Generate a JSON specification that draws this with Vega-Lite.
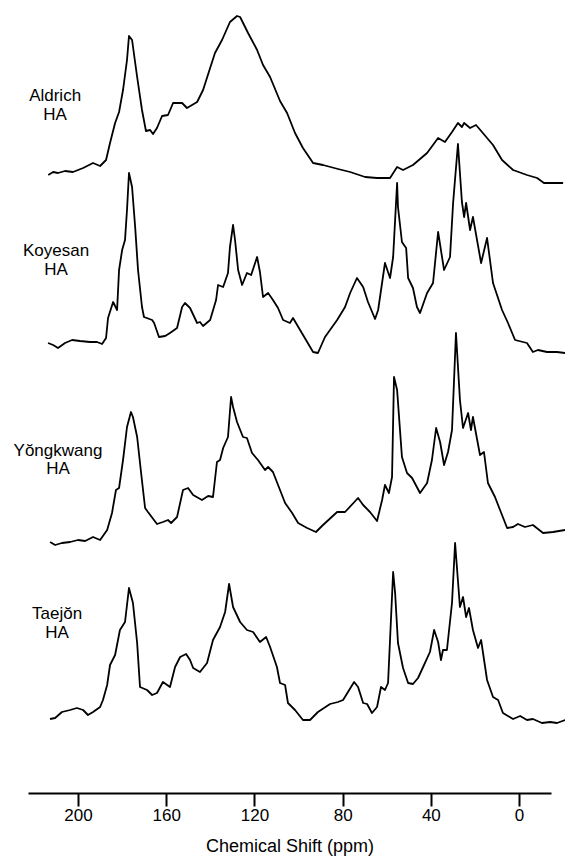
{
  "$schema": "https://vega.github.io/schema/vega-lite/v6.json",
  "autosize": "none",
  "width": 523,
  "height": 793,
  "padding": {"left": 28, "right": 14, "top": 0, "bottom": 69},
  "background": "white",
  "config": {"view": {"stroke": null}, "font": "Liberation Sans"},
  "datasets": {
    "spectra": [
      {"sample":"Aldrich","ppm":213.5,"signal":618},{"sample":"Aldrich","ppm":211.3,"signal":621},{"sample":"Aldrich","ppm":209.1,"signal":620},{"sample":"Aldrich","ppm":205.9,"signal":622},{"sample":"Aldrich","ppm":202.3,"signal":621},{"sample":"Aldrich","ppm":197.7,"signal":625},{"sample":"Aldrich","ppm":193.2,"signal":630},{"sample":"Aldrich","ppm":190.0,"signal":627},{"sample":"Aldrich","ppm":187.3,"signal":633},{"sample":"Aldrich","ppm":185.5,"signal":650},{"sample":"Aldrich","ppm":183.2,"signal":670},{"sample":"Aldrich","ppm":181.4,"signal":681},{"sample":"Aldrich","ppm":179.6,"signal":703},{"sample":"Aldrich","ppm":177.8,"signal":733},{"sample":"Aldrich","ppm":176.9,"signal":757},{"sample":"Aldrich","ppm":175.5,"signal":753},{"sample":"Aldrich","ppm":173.2,"signal":716},{"sample":"Aldrich","ppm":171.0,"signal":683},{"sample":"Aldrich","ppm":169.2,"signal":662},{"sample":"Aldrich","ppm":167.3,"signal":663},{"sample":"Aldrich","ppm":166.0,"signal":659},{"sample":"Aldrich","ppm":164.2,"signal":665},{"sample":"Aldrich","ppm":161.9,"signal":677},{"sample":"Aldrich","ppm":159.2,"signal":678},{"sample":"Aldrich","ppm":156.9,"signal":690},{"sample":"Aldrich","ppm":152.8,"signal":690},{"sample":"Aldrich","ppm":150.6,"signal":685},{"sample":"Aldrich","ppm":146.0,"signal":691},{"sample":"Aldrich","ppm":143.3,"signal":703},{"sample":"Aldrich","ppm":140.1,"signal":725},{"sample":"Aldrich","ppm":137.9,"signal":740},{"sample":"Aldrich","ppm":134.7,"signal":753},{"sample":"Aldrich","ppm":131.1,"signal":771},{"sample":"Aldrich","ppm":127.9,"signal":777},{"sample":"Aldrich","ppm":126.5,"signal":776},{"sample":"Aldrich","ppm":122.9,"signal":760},{"sample":"Aldrich","ppm":118.8,"signal":743},{"sample":"Aldrich","ppm":116.1,"signal":728},{"sample":"Aldrich","ppm":112.9,"signal":716},{"sample":"Aldrich","ppm":108.4,"signal":692},{"sample":"Aldrich","ppm":105.2,"signal":680},{"sample":"Aldrich","ppm":101.6,"signal":660},{"sample":"Aldrich","ppm":98.0,"signal":645},{"sample":"Aldrich","ppm":93.4,"signal":630},{"sample":"Aldrich","ppm":88.9,"signal":628},{"sample":"Aldrich","ppm":82.1,"signal":624},{"sample":"Aldrich","ppm":76.6,"signal":621},{"sample":"Aldrich","ppm":69.8,"signal":616},{"sample":"Aldrich","ppm":64.4,"signal":615},{"sample":"Aldrich","ppm":58.5,"signal":615},{"sample":"Aldrich","ppm":55.3,"signal":626},{"sample":"Aldrich","ppm":52.6,"signal":623},{"sample":"Aldrich","ppm":48.1,"signal":628},{"sample":"Aldrich","ppm":41.7,"signal":640},{"sample":"Aldrich","ppm":36.7,"signal":655},{"sample":"Aldrich","ppm":33.6,"signal":651},{"sample":"Aldrich","ppm":30.4,"signal":661},{"sample":"Aldrich","ppm":27.7,"signal":670},{"sample":"Aldrich","ppm":25.9,"signal":666},{"sample":"Aldrich","ppm":24.9,"signal":670},{"sample":"Aldrich","ppm":22.2,"signal":665},{"sample":"Aldrich","ppm":19.5,"signal":668},{"sample":"Aldrich","ppm":16.8,"signal":661},{"sample":"Aldrich","ppm":11.8,"signal":648},{"sample":"Aldrich","ppm":7.7,"signal":633},{"sample":"Aldrich","ppm":2.7,"signal":623},{"sample":"Aldrich","ppm":-3.6,"signal":618},{"sample":"Aldrich","ppm":-8.2,"signal":615},{"sample":"Aldrich","ppm":-11.3,"signal":610},{"sample":"Aldrich","ppm":-20.0,"signal":610},

      {"sample":"Koyesan","ppm":213.6,"signal":450},{"sample":"Koyesan","ppm":211.3,"signal":448},{"sample":"Koyesan","ppm":209.1,"signal":445},{"sample":"Koyesan","ppm":205.9,"signal":450},{"sample":"Koyesan","ppm":202.7,"signal":453},{"sample":"Koyesan","ppm":199.1,"signal":452},{"sample":"Koyesan","ppm":194.6,"signal":451},{"sample":"Koyesan","ppm":191.4,"signal":451},{"sample":"Koyesan","ppm":189.1,"signal":449},{"sample":"Koyesan","ppm":187.3,"signal":455},{"sample":"Koyesan","ppm":186.4,"signal":475},{"sample":"Koyesan","ppm":184.1,"signal":491},{"sample":"Koyesan","ppm":182.3,"signal":483},{"sample":"Koyesan","ppm":181.4,"signal":523},{"sample":"Koyesan","ppm":180.0,"signal":543},{"sample":"Koyesan","ppm":178.7,"signal":553},{"sample":"Koyesan","ppm":177.8,"signal":583},{"sample":"Koyesan","ppm":176.9,"signal":620},{"sample":"Koyesan","ppm":175.5,"signal":606},{"sample":"Koyesan","ppm":174.1,"signal":566},{"sample":"Koyesan","ppm":172.8,"signal":523},{"sample":"Koyesan","ppm":171.0,"signal":486},{"sample":"Koyesan","ppm":170.1,"signal":476},{"sample":"Koyesan","ppm":166.4,"signal":473},{"sample":"Koyesan","ppm":165.5,"signal":470},{"sample":"Koyesan","ppm":163.3,"signal":456},{"sample":"Koyesan","ppm":160.5,"signal":457},{"sample":"Koyesan","ppm":158.3,"signal":460},{"sample":"Koyesan","ppm":155.1,"signal":465},{"sample":"Koyesan","ppm":152.8,"signal":486},{"sample":"Koyesan","ppm":151.5,"signal":490},{"sample":"Koyesan","ppm":149.2,"signal":485},{"sample":"Koyesan","ppm":146.0,"signal":470},{"sample":"Koyesan","ppm":144.7,"signal":471},{"sample":"Koyesan","ppm":143.3,"signal":467},{"sample":"Koyesan","ppm":140.1,"signal":473},{"sample":"Koyesan","ppm":137.4,"signal":493},{"sample":"Koyesan","ppm":136.5,"signal":508},{"sample":"Koyesan","ppm":134.2,"signal":506},{"sample":"Koyesan","ppm":132.0,"signal":520},{"sample":"Koyesan","ppm":131.1,"signal":546},{"sample":"Koyesan","ppm":129.7,"signal":568},{"sample":"Koyesan","ppm":128.8,"signal":553},{"sample":"Koyesan","ppm":127.4,"signal":523},{"sample":"Koyesan","ppm":125.6,"signal":508},{"sample":"Koyesan","ppm":123.4,"signal":520},{"sample":"Koyesan","ppm":121.5,"signal":518},{"sample":"Koyesan","ppm":118.8,"signal":536},{"sample":"Koyesan","ppm":117.5,"signal":521},{"sample":"Koyesan","ppm":116.1,"signal":496},{"sample":"Koyesan","ppm":113.8,"signal":500},{"sample":"Koyesan","ppm":111.6,"signal":493},{"sample":"Koyesan","ppm":109.3,"signal":485},{"sample":"Koyesan","ppm":107.0,"signal":473},{"sample":"Koyesan","ppm":103.9,"signal":470},{"sample":"Koyesan","ppm":102.5,"signal":475},{"sample":"Koyesan","ppm":99.3,"signal":463},{"sample":"Koyesan","ppm":93.4,"signal":441},{"sample":"Koyesan","ppm":91.2,"signal":440},{"sample":"Koyesan","ppm":88.0,"signal":456},{"sample":"Koyesan","ppm":82.5,"signal":473},{"sample":"Koyesan","ppm":78.9,"signal":486},{"sample":"Koyesan","ppm":76.6,"signal":500},{"sample":"Koyesan","ppm":73.5,"signal":515},{"sample":"Koyesan","ppm":70.7,"signal":506},{"sample":"Koyesan","ppm":68.5,"signal":491},{"sample":"Koyesan","ppm":65.3,"signal":474},{"sample":"Koyesan","ppm":63.9,"signal":483},{"sample":"Koyesan","ppm":60.8,"signal":530},{"sample":"Koyesan","ppm":58.5,"signal":515},{"sample":"Koyesan","ppm":57.1,"signal":536},{"sample":"Koyesan","ppm":55.3,"signal":610},{"sample":"Koyesan","ppm":54.9,"signal":586},{"sample":"Koyesan","ppm":53.1,"signal":551},{"sample":"Koyesan","ppm":51.2,"signal":545},{"sample":"Koyesan","ppm":50.3,"signal":515},{"sample":"Koyesan","ppm":48.1,"signal":505},{"sample":"Koyesan","ppm":46.3,"signal":486},{"sample":"Koyesan","ppm":44.9,"signal":480},{"sample":"Koyesan","ppm":41.7,"signal":500},{"sample":"Koyesan","ppm":39.0,"signal":510},{"sample":"Koyesan","ppm":36.7,"signal":561},{"sample":"Koyesan","ppm":34.0,"signal":523},{"sample":"Koyesan","ppm":31.3,"signal":536},{"sample":"Koyesan","ppm":29.9,"signal":590},{"sample":"Koyesan","ppm":27.7,"signal":649},{"sample":"Koyesan","ppm":25.9,"signal":591},{"sample":"Koyesan","ppm":24.9,"signal":576},{"sample":"Koyesan","ppm":24.0,"signal":590},{"sample":"Koyesan","ppm":22.2,"signal":563},{"sample":"Koyesan","ppm":20.9,"signal":576},{"sample":"Koyesan","ppm":17.2,"signal":530},{"sample":"Koyesan","ppm":14.5,"signal":555},{"sample":"Koyesan","ppm":11.8,"signal":510},{"sample":"Koyesan","ppm":7.7,"signal":483},{"sample":"Koyesan","ppm":5.0,"signal":470},{"sample":"Koyesan","ppm":1.8,"signal":453},{"sample":"Koyesan","ppm":-3.6,"signal":450},{"sample":"Koyesan","ppm":-6.3,"signal":441},{"sample":"Koyesan","ppm":-8.6,"signal":443},{"sample":"Koyesan","ppm":-12.7,"signal":441},{"sample":"Koyesan","ppm":-17.2,"signal":441},{"sample":"Koyesan","ppm":-20.9,"signal":440},

      {"sample":"Yongkwang","ppm":212.7,"signal":251},{"sample":"Yongkwang","ppm":210.4,"signal":248},{"sample":"Yongkwang","ppm":207.3,"signal":250},{"sample":"Yongkwang","ppm":203.6,"signal":251},{"sample":"Yongkwang","ppm":200.0,"signal":253},{"sample":"Yongkwang","ppm":196.8,"signal":252},{"sample":"Yongkwang","ppm":193.2,"signal":256},{"sample":"Yongkwang","ppm":190.0,"signal":253},{"sample":"Yongkwang","ppm":186.8,"signal":263},{"sample":"Yongkwang","ppm":184.6,"signal":280},{"sample":"Yongkwang","ppm":182.8,"signal":303},{"sample":"Yongkwang","ppm":181.4,"signal":305},{"sample":"Yongkwang","ppm":179.6,"signal":333},{"sample":"Yongkwang","ppm":177.8,"signal":366},{"sample":"Yongkwang","ppm":176.0,"signal":381},{"sample":"Yongkwang","ppm":175.1,"signal":376},{"sample":"Yongkwang","ppm":173.2,"signal":356},{"sample":"Yongkwang","ppm":171.4,"signal":320},{"sample":"Yongkwang","ppm":169.6,"signal":285},{"sample":"Yongkwang","ppm":168.3,"signal":281},{"sample":"Yongkwang","ppm":164.2,"signal":269},{"sample":"Yongkwang","ppm":161.5,"signal":271},{"sample":"Yongkwang","ppm":159.2,"signal":273},{"sample":"Yongkwang","ppm":157.8,"signal":270},{"sample":"Yongkwang","ppm":155.1,"signal":276},{"sample":"Yongkwang","ppm":152.4,"signal":303},{"sample":"Yongkwang","ppm":150.1,"signal":305},{"sample":"Yongkwang","ppm":147.8,"signal":298},{"sample":"Yongkwang","ppm":143.8,"signal":293},{"sample":"Yongkwang","ppm":141.0,"signal":297},{"sample":"Yongkwang","ppm":138.8,"signal":296},{"sample":"Yongkwang","ppm":137.0,"signal":331},{"sample":"Yongkwang","ppm":135.6,"signal":333},{"sample":"Yongkwang","ppm":134.2,"signal":345},{"sample":"Yongkwang","ppm":132.0,"signal":356},{"sample":"Yongkwang","ppm":130.6,"signal":396},{"sample":"Yongkwang","ppm":129.7,"signal":386},{"sample":"Yongkwang","ppm":127.9,"signal":371},{"sample":"Yongkwang","ppm":125.2,"signal":356},{"sample":"Yongkwang","ppm":123.4,"signal":355},{"sample":"Yongkwang","ppm":121.1,"signal":340},{"sample":"Yongkwang","ppm":118.4,"signal":333},{"sample":"Yongkwang","ppm":115.2,"signal":323},{"sample":"Yongkwang","ppm":113.8,"signal":326},{"sample":"Yongkwang","ppm":111.6,"signal":321},{"sample":"Yongkwang","ppm":108.4,"signal":303},{"sample":"Yongkwang","ppm":106.1,"signal":290},{"sample":"Yongkwang","ppm":102.9,"signal":280},{"sample":"Yongkwang","ppm":100.2,"signal":270},{"sample":"Yongkwang","ppm":96.1,"signal":265},{"sample":"Yongkwang","ppm":92.1,"signal":261},{"sample":"Yongkwang","ppm":88.9,"signal":268},{"sample":"Yongkwang","ppm":82.5,"signal":281},{"sample":"Yongkwang","ppm":78.9,"signal":281},{"sample":"Yongkwang","ppm":73.0,"signal":295},{"sample":"Yongkwang","ppm":70.7,"signal":288},{"sample":"Yongkwang","ppm":67.6,"signal":281},{"sample":"Yongkwang","ppm":64.4,"signal":272},{"sample":"Yongkwang","ppm":62.1,"signal":293},{"sample":"Yongkwang","ppm":60.8,"signal":308},{"sample":"Yongkwang","ppm":59.0,"signal":300},{"sample":"Yongkwang","ppm":57.6,"signal":316},{"sample":"Yongkwang","ppm":56.7,"signal":416},{"sample":"Yongkwang","ppm":55.3,"signal":403},{"sample":"Yongkwang","ppm":53.1,"signal":336},{"sample":"Yongkwang","ppm":50.8,"signal":320},{"sample":"Yongkwang","ppm":48.5,"signal":315},{"sample":"Yongkwang","ppm":44.9,"signal":300},{"sample":"Yongkwang","ppm":41.7,"signal":310},{"sample":"Yongkwang","ppm":39.5,"signal":333},{"sample":"Yongkwang","ppm":37.6,"signal":365},{"sample":"Yongkwang","ppm":35.8,"signal":351},{"sample":"Yongkwang","ppm":34.0,"signal":328},{"sample":"Yongkwang","ppm":32.2,"signal":341},{"sample":"Yongkwang","ppm":30.4,"signal":363},{"sample":"Yongkwang","ppm":28.6,"signal":460},{"sample":"Yongkwang","ppm":26.8,"signal":393},{"sample":"Yongkwang","ppm":25.4,"signal":365},{"sample":"Yongkwang","ppm":23.1,"signal":380},{"sample":"Yongkwang","ppm":21.8,"signal":363},{"sample":"Yongkwang","ppm":20.9,"signal":376},{"sample":"Yongkwang","ppm":17.7,"signal":338},{"sample":"Yongkwang","ppm":15.9,"signal":341},{"sample":"Yongkwang","ppm":14.1,"signal":310},{"sample":"Yongkwang","ppm":10.9,"signal":296},{"sample":"Yongkwang","ppm":8.6,"signal":283},{"sample":"Yongkwang","ppm":5.4,"signal":265},{"sample":"Yongkwang","ppm":2.7,"signal":266},{"sample":"Yongkwang","ppm":0.5,"signal":269},{"sample":"Yongkwang","ppm":-2.7,"signal":266},{"sample":"Yongkwang","ppm":-6.3,"signal":268},{"sample":"Yongkwang","ppm":-10.9,"signal":260},{"sample":"Yongkwang","ppm":-15.4,"signal":261},{"sample":"Yongkwang","ppm":-20.9,"signal":263},

      {"sample":"Taejon","ppm":212.7,"signal":74},{"sample":"Taejon","ppm":210.4,"signal":75},{"sample":"Taejon","ppm":207.3,"signal":81},{"sample":"Taejon","ppm":203.6,"signal":83},{"sample":"Taejon","ppm":200.5,"signal":85},{"sample":"Taejon","ppm":197.7,"signal":83},{"sample":"Taejon","ppm":195.5,"signal":78},{"sample":"Taejon","ppm":193.2,"signal":81},{"sample":"Taejon","ppm":190.0,"signal":86},{"sample":"Taejon","ppm":188.7,"signal":93},{"sample":"Taejon","ppm":186.8,"signal":108},{"sample":"Taejon","ppm":185.5,"signal":128},{"sample":"Taejon","ppm":183.2,"signal":138},{"sample":"Taejon","ppm":181.0,"signal":163},{"sample":"Taejon","ppm":178.7,"signal":171},{"sample":"Taejon","ppm":176.9,"signal":205},{"sample":"Taejon","ppm":175.1,"signal":190},{"sample":"Taejon","ppm":173.2,"signal":150},{"sample":"Taejon","ppm":171.9,"signal":106},{"sample":"Taejon","ppm":168.7,"signal":103},{"sample":"Taejon","ppm":166.4,"signal":98},{"sample":"Taejon","ppm":164.2,"signal":100},{"sample":"Taejon","ppm":161.5,"signal":111},{"sample":"Taejon","ppm":158.3,"signal":106},{"sample":"Taejon","ppm":156.0,"signal":126},{"sample":"Taejon","ppm":153.7,"signal":136},{"sample":"Taejon","ppm":151.0,"signal":139},{"sample":"Taejon","ppm":149.2,"signal":133},{"sample":"Taejon","ppm":147.8,"signal":125},{"sample":"Taejon","ppm":144.7,"signal":121},{"sample":"Taejon","ppm":141.5,"signal":130},{"sample":"Taejon","ppm":138.8,"signal":153},{"sample":"Taejon","ppm":135.6,"signal":166},{"sample":"Taejon","ppm":133.3,"signal":181},{"sample":"Taejon","ppm":131.5,"signal":209},{"sample":"Taejon","ppm":129.7,"signal":186},{"sample":"Taejon","ppm":126.5,"signal":171},{"sample":"Taejon","ppm":123.4,"signal":163},{"sample":"Taejon","ppm":120.6,"signal":161},{"sample":"Taejon","ppm":117.5,"signal":151},{"sample":"Taejon","ppm":114.7,"signal":156},{"sample":"Taejon","ppm":112.9,"signal":146},{"sample":"Taejon","ppm":109.8,"signal":126},{"sample":"Taejon","ppm":108.4,"signal":110},{"sample":"Taejon","ppm":106.1,"signal":108},{"sample":"Taejon","ppm":104.8,"signal":90},{"sample":"Taejon","ppm":101.6,"signal":83},{"sample":"Taejon","ppm":98.0,"signal":73},{"sample":"Taejon","ppm":94.8,"signal":73},{"sample":"Taejon","ppm":91.2,"signal":81},{"sample":"Taejon","ppm":85.7,"signal":89},{"sample":"Taejon","ppm":82.1,"signal":91},{"sample":"Taejon","ppm":79.8,"signal":93},{"sample":"Taejon","ppm":74.8,"signal":111},{"sample":"Taejon","ppm":73.0,"signal":106},{"sample":"Taejon","ppm":70.7,"signal":90},{"sample":"Taejon","ppm":68.9,"signal":89},{"sample":"Taejon","ppm":66.7,"signal":80},{"sample":"Taejon","ppm":64.4,"signal":86},{"sample":"Taejon","ppm":62.6,"signal":106},{"sample":"Taejon","ppm":60.8,"signal":103},{"sample":"Taejon","ppm":59.4,"signal":110},{"sample":"Taejon","ppm":57.1,"signal":221},{"sample":"Taejon","ppm":56.2,"signal":200},{"sample":"Taejon","ppm":54.9,"signal":150},{"sample":"Taejon","ppm":52.6,"signal":125},{"sample":"Taejon","ppm":50.3,"signal":110},{"sample":"Taejon","ppm":48.1,"signal":109},{"sample":"Taejon","ppm":45.8,"signal":115},{"sample":"Taejon","ppm":43.5,"signal":126},{"sample":"Taejon","ppm":40.4,"signal":141},{"sample":"Taejon","ppm":38.5,"signal":163},{"sample":"Taejon","ppm":36.7,"signal":151},{"sample":"Taejon","ppm":35.4,"signal":133},{"sample":"Taejon","ppm":34.5,"signal":143},{"sample":"Taejon","ppm":32.7,"signal":143},{"sample":"Taejon","ppm":30.4,"signal":190},{"sample":"Taejon","ppm":29.0,"signal":250},{"sample":"Taejon","ppm":26.8,"signal":186},{"sample":"Taejon","ppm":25.4,"signal":196},{"sample":"Taejon","ppm":24.0,"signal":176},{"sample":"Taejon","ppm":22.7,"signal":185},{"sample":"Taejon","ppm":20.9,"signal":163},{"sample":"Taejon","ppm":18.6,"signal":145},{"sample":"Taejon","ppm":17.2,"signal":153},{"sample":"Taejon","ppm":14.5,"signal":113},{"sample":"Taejon","ppm":11.8,"signal":96},{"sample":"Taejon","ppm":9.5,"signal":93},{"sample":"Taejon","ppm":7.3,"signal":80},{"sample":"Taejon","ppm":2.7,"signal":74},{"sample":"Taejon","ppm":-0.5,"signal":77},{"sample":"Taejon","ppm":-3.6,"signal":73},{"sample":"Taejon","ppm":-6.3,"signal":74},{"sample":"Taejon","ppm":-10.4,"signal":70},{"sample":"Taejon","ppm":-14.1,"signal":71},{"sample":"Taejon","ppm":-17.2,"signal":70},{"sample":"Taejon","ppm":-20.9,"signal":73}
    ],
    "labels": [
      {"ppm":210.4,"signal":697,"text":"Aldrich"},{"ppm":210.4,"signal":678,"text":"HA"},
      {"ppm":210.0,"signal":542,"text":"Koyesan"},{"ppm":210.0,"signal":523,"text":"HA"},
      {"ppm":209.1,"signal":342,"text":"Yŏngkwang"},{"ppm":209.1,"signal":324,"text":"HA"},
      {"ppm":209.5,"signal":179,"text":"Taejŏn"},{"ppm":209.5,"signal":160,"text":"HA"}
    ]
  },
  "layer": [
    {
      "data": {"name": "spectra"},
      "mark": {"type": "line", "color": "black", "strokeWidth": 1.8, "strokeJoin": "round", "clip": false},
      "encoding": {
        "x": {
          "field": "ppm", "type": "quantitative",
          "scale": {"domain": [222.7, -14.5], "nice": false, "zero": false},
          "axis": {
            "values": [200, 160, 120, 80, 40, 0],
            "title": "Chemical Shift (ppm)",
            "grid": false,
            "domainColor": "black", "domainWidth": 2,
            "tickColor": "black", "tickWidth": 2, "tickSize": 13,
            "labelFont": "Liberation Sans", "labelFontSize": 17, "labelColor": "black", "labelPadding": 1,
            "titleFont": "Liberation Sans", "titleFontSize": 18, "titleFontWeight": "normal", "titleColor": "black", "titlePadding": 14
          }
        },
        "y": {
          "field": "signal", "type": "quantitative",
          "scale": {"domain": [0, 793], "nice": false, "zero": false},
          "axis": null
        },
        "detail": {"field": "sample", "type": "nominal"}
      }
    },
    {
      "data": {"name": "labels"},
      "mark": {"type": "text", "font": "Liberation Sans", "fontSize": 17, "color": "black", "align": "center", "baseline": "middle"},
      "encoding": {
        "x": {"field": "ppm", "type": "quantitative"},
        "y": {"field": "signal", "type": "quantitative"},
        "text": {"field": "text", "type": "nominal"}
      }
    }
  ]
}
